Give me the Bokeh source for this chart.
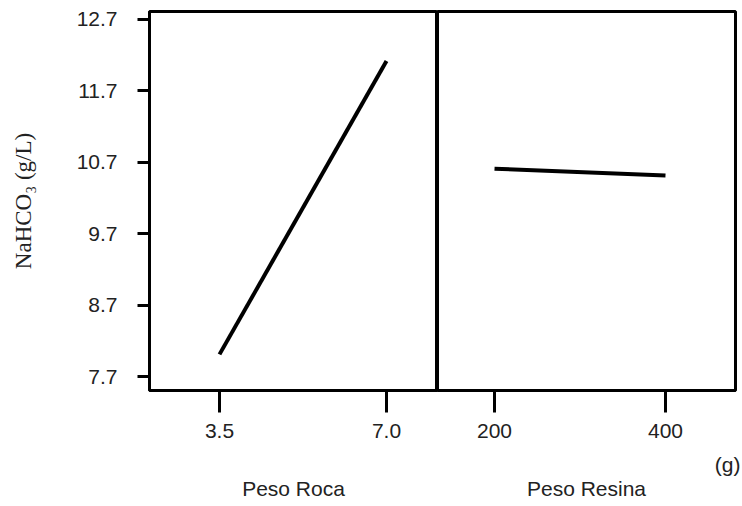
from bokeh.plotting import figure
from bokeh.layouts import row
from bokeh.models import FixedTicker, Range1d, LinearAxis, Title
from bokeh.embed import file_html
from bokeh.resources import INLINE

# Data
roca_levels = [3.5, 7.0]
roca_means = [8.01, 12.12]
resina_levels = [200, 400]
resina_means = [10.61, 10.515]
y_ticks = [7.7, 8.7, 9.7, 10.7, 11.7, 12.7]
y_label = "NaHCO\u2083 (g/L)"
x_labels = ["Peso Roca", "Peso Resina"]
unit_label = "(g)"

FONT = "Liberation Sans"
TXT = "#222222"
H = 506
YR = (7.504, 12.812)
XR2 = (133.3, 481.9)


def style_x(ax):
    ax.axis_line_width = 3
    ax.major_tick_line_width = 3
    ax.major_tick_out = 22
    ax.major_tick_in = 0
    ax.minor_tick_line_color = None
    ax.major_label_text_font = FONT
    ax.major_label_text_font_size = "21px"
    ax.major_label_text_color = TXT
    ax.major_label_standoff = 11
    ax.axis_label_text_font = FONT
    ax.axis_label_text_font_size = "21px"
    ax.axis_label_text_font_style = "normal"
    ax.axis_label_text_color = TXT
    ax.axis_label_standoff = 36


def style(p):
    p.outline_line_color = "black"
    p.outline_line_width = 3
    p.outline_line_alpha = 1
    p.xgrid.visible = False
    p.ygrid.visible = False
    p.background_fill_color = "white"
    p.border_fill_color = "white"


p1 = figure(width=437, height=H, output_backend="svg", toolbar_location=None,
            x_range=Range1d(2.033, 8.069), y_range=Range1d(*YR),
            min_border_left=149, min_border_right=0, min_border_top=11,
            min_border_bottom=116)
style(p1)
style_x(p1.xaxis[0])
p1.xaxis.ticker = FixedTicker(ticks=roca_levels)
p1.xaxis.major_label_overrides = {3.5: "3.5", 7.0: "7.0", 7: "7.0"}
p1.xaxis.axis_label = x_labels[0]
p1.yaxis.ticker = FixedTicker(ticks=y_ticks)
p1.yaxis.major_label_overrides = {t: f"{t:.1f}" for t in y_ticks}
ya = p1.yaxis[0]
ya.axis_line_width = 3
ya.major_tick_line_width = 3
ya.major_tick_out = 12
ya.major_tick_in = 0
ya.minor_tick_line_color = None
ya.major_label_text_font = FONT
ya.major_label_text_font_size = "21px"
ya.major_label_text_color = TXT
ya.major_label_standoff = 20
ya.axis_label = y_label
ya.axis_label_text_font = "Liberation Serif"
ya.axis_label_text_font_size = "23px"
ya.axis_label_text_font_style = "normal"
ya.axis_label_text_color = TXT
ya.axis_label_standoff = 38
p1.line(roca_levels, roca_means, line_color="black", line_width=4)

p2 = figure(width=305, height=H, output_backend="svg", toolbar_location=None,
            x_range=Range1d(*XR2), y_range=Range1d(*YR),
            min_border_left=0, min_border_right=7, min_border_top=11,
            min_border_bottom=116)
style(p2)
p2.yaxis.visible = False
ax_in = p2.xaxis[0]
style_x(ax_in)
ax_in.ticker = FixedTicker(ticks=resina_levels)

unit_title = Title(text=unit_label, align="right", offset=-5, standoff=20,
                   text_font=FONT, text_font_size="21px",
                   text_font_style="normal", text_color=TXT)

ax_out = LinearAxis(ticker=FixedTicker(ticks=[]), axis_label=x_labels[1])
style_x(ax_out)
ax_out.axis_line_color = None
ax_out.major_tick_line_color = None
ax_out.major_label_text_font_size = "0px"
ax_out.axis_label_standoff = -9
p2.below = [ax_in, unit_title, ax_out]
p2.line(resina_levels, resina_means, line_color="black", line_width=4)

layout = row(p1, p2, spacing=0)
open("out.html", "w").write(file_html(layout, INLINE))
